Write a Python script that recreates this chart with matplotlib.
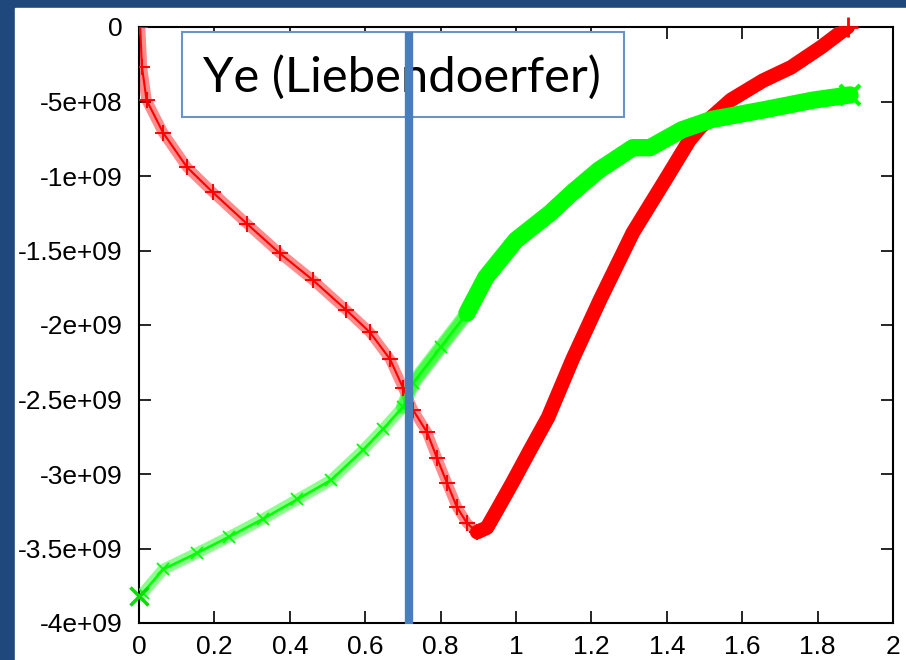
import matplotlib
matplotlib.use('Agg')
import matplotlib.pyplot as plt
from matplotlib.patches import Rectangle
import numpy as np

# red curve (+ markers), values in units of 1e9
red_x_thin = [0.003, 0.008, 0.02, 0.064, 0.127, 0.196, 0.286, 0.374, 0.462, 0.55,
              0.613, 0.666, 0.70, 0.727, 0.764, 0.79, 0.817, 0.843, 0.87, 0.897]
red_y_thin = [0.0, -0.27, -0.49, -0.71, -0.94, -1.11, -1.32, -1.52, -1.70, -1.90,
              -2.05, -2.23, -2.42, -2.57, -2.72, -2.89, -3.06, -3.22, -3.33, -3.39]
red_x_thick = [0.897, 0.923, 0.95, 0.99, 1.037, 1.085, 1.15, 1.223, 1.31, 1.40,
               1.46, 1.49, 1.57, 1.655, 1.73, 1.81, 1.88]
red_y_thick = [-3.39, -3.36, -3.24, -3.06, -2.84, -2.62, -2.23, -1.83, -1.38, -1.01,
               -0.76, -0.67, -0.49, -0.36, -0.27, -0.134, 0.0]

# green curve (x markers)
green_x_thin = [0.0, 0.01, 0.064, 0.154, 0.24, 0.33, 0.42, 0.51, 0.594, 0.647,
                0.70, 0.727, 0.80, 0.87]
green_y_thin = [-3.82, -3.80, -3.64, -3.53, -3.42, -3.30, -3.17, -3.04, -2.84, -2.70,
                -2.55, -2.39, -2.15, -1.92]
green_x_thick = [0.87, 0.92, 1.00, 1.09, 1.15, 1.22, 1.31, 1.355, 1.44, 1.52,
                 1.655, 1.79, 1.886]
green_y_thick = [-1.92, -1.68, -1.43, -1.25, -1.11, -0.96, -0.81, -0.81, -0.69, -0.62,
                 -0.557, -0.49, -0.456]

x_ticks = [0, 0.2, 0.4, 0.6, 0.8, 1, 1.2, 1.4, 1.6, 1.8, 2]
x_labels = ['0', '0.2', '0.4', '0.6', '0.8', '1', '1.2', '1.4', '1.6', '1.8', '2']
y_ticks = [0, -0.5, -1, -1.5, -2, -2.5, -3, -3.5, -4]
y_labels = ['0', '-5e+08', '-1e+09', '-1.5e+09', '-2e+09', '-2.5e+09', '-3e+09',
            '-3.5e+09', '-4e+09']

marker_x = 0.716
title = 'Ye (Liebendoerfer)'

E = 1e9
W, H = 906, 660

fig = plt.figure(figsize=(W / 100, H / 100), dpi=100, facecolor='#1F497D')
# white slide area
fig.add_artist(Rectangle((15 / W, 0), 1 - 15 / W, (H - 8) / H,
                         transform=fig.transFigure, color='white', zorder=0))

ax = fig.add_axes([139 / W, (H - 623) / H, (893 - 139) / W, (623 - 27) / H])
ax.set_facecolor('white')

rx = np.array(red_x_thin)
ry = np.array(red_y_thin) * E
gx = np.array(green_x_thin)
gy = np.array(green_y_thin) * E

# red
ax.plot(rx, ry, color='#FF0000', lw=7.5, alpha=0.45, solid_capstyle='round', zorder=2)
ax.plot(rx, ry, color='#FF0000', lw=1.5, marker='+', ms=11, mew=1.4, zorder=3)
ax.plot(np.array(red_x_thick), np.array(red_y_thick) * E, color='#FF0000', lw=10.5,
        solid_capstyle='round', zorder=3)
ax.plot(red_x_thick[-1], red_y_thick[-1] * E, color='#FF0000', marker='+', ms=14,
        mew=2, clip_on=False, zorder=3)

# green
ax.plot(gx, gy, color='#00FF00', lw=8, alpha=0.45, solid_capstyle='round', zorder=2)
ax.plot(gx[gx >= 0.7], gy[gx >= 0.7], color='#00FF00', lw=10, alpha=0.5,
        solid_capstyle='round', zorder=2)
ax.plot(gx, gy, color='#00FF00', lw=1.8, marker='x', ms=9, mew=1.3, zorder=3)
ax.plot(green_x_thin[0], green_y_thin[0] * E, color='#00E000', marker='x', ms=13,
        mew=2.5, clip_on=False, zorder=4)
ax.plot(np.array(green_x_thick), np.array(green_y_thick) * E, color='#00FF00', lw=12.5,
        solid_capstyle='round', zorder=3)
ax.plot(green_x_thick[-1], green_y_thick[-1] * E, color='#00FF00', marker='x', ms=14,
        mew=3, clip_on=False, zorder=3)

ax.set_xlim(0, 2)
ax.set_ylim(-4 * E, 0)
ax.set_xticks(x_ticks)
ax.set_xticklabels(x_labels)
ax.set_yticks(np.array(y_ticks) * E)
ax.set_yticklabels(y_labels)
ax.tick_params(direction='in', length=8.5, width=1.2, top=True, right=True,
               labelsize=19, colors='black')
ax.tick_params(axis='y', pad=12)
ax.tick_params(axis='x', pad=9)
for lab in ax.get_xticklabels() + ax.get_yticklabels():
    lab.set_fontfamily('Liberation Sans')
for s in ax.spines.values():
    s.set_linewidth(1.5)

# text box
ax.add_patch(Rectangle((182 / W, (H - 117) / H), (624 - 182) / W, 85 / H,
                       transform=fig.transFigure, facecolor='white',
                       edgecolor='#6A93C6', lw=1.5, clip_on=False, zorder=5))
ax.text(203 / W, (H - 92) / H, title, transform=fig.transFigure, fontsize=35.3,
        family='Lato', ha='left', va='baseline', zorder=6)

# vertical marker
ax.plot([marker_x, marker_x], [-0.034 * E, -4.01 * E], color='#4A7EBB', lw=6,
        solid_capstyle='butt', clip_on=False, zorder=7)

fig.savefig('out.png', dpi=100, facecolor=fig.get_facecolor())
